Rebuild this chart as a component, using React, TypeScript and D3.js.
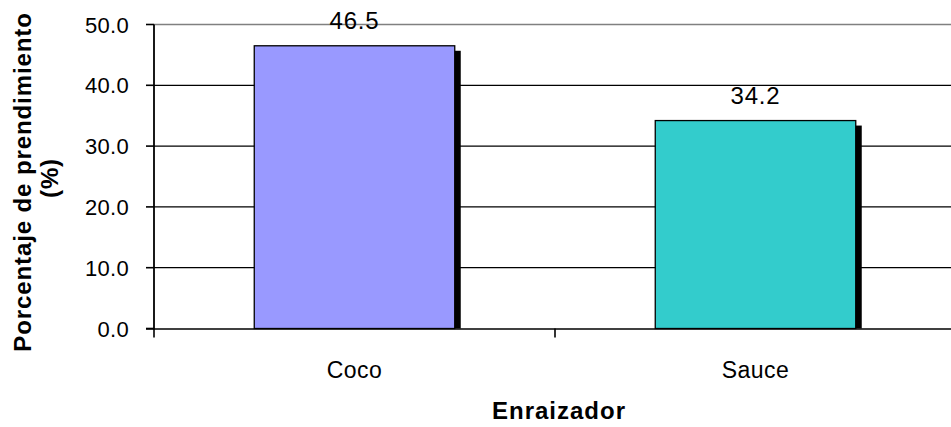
import React from "react";
import * as d3 from "d3";

const categories = ["Coco", "Sauce"];
const values = [46.5, 34.2];
const colors = ["#9999FF", "#33CCCC"];
const yTicks = [0, 10, 20, 30, 40, 50];
const yTitleLines = ["Porcentaje de prendimiento", "(%)"];
const xTitle = "Enraizador";

const W = 951;
const H = 427;
const FONT = "'Liberation Sans', Arial, Helvetica, sans-serif";

export default function App() {
  const y = d3.scaleLinear().domain([0, 50]).range([328.5, 24.5]);
  const x = d3.scaleBand<string>().domain(categories).range([154, 956]).paddingInner(0).paddingOuter(0);
  const bw = x.bandwidth();
  const barW = bw * 0.5;
  const y0 = y(0);

  return (
    <svg
      width={W}
      height={H}
      style={{ position: "absolute", left: 0, top: 0, background: "#fff" }}
      fontFamily={FONT}
    >
      <rect x={0} y={0} width={W} height={H} fill="#fff" />
      {/* gridlines */}
      {yTicks.filter((t) => t > 0).map((t) => (
        <line
          key={"g" + t}
          x1={154}
          x2={W}
          y1={y(t)}
          y2={y(t)}
          stroke={t === 50 ? "#808080" : "#000"}
          strokeWidth={t === 50 ? 1.6 : 1.3}
        />
      ))}
      {/* bars with shadows */}
      {categories.map((c, i) => {
        const bx = (x(c) as number) + bw * 0.25;
        const by = y(values[i]);
        return (
          <g key={c}>
            <rect x={bx + 6} y={by + 5} width={barW} height={y0 - by - 5} fill="#000" />
            <rect
              x={bx}
              y={by}
              width={barW}
              height={y0 - by}
              fill={colors[i]}
              stroke="#000"
              strokeWidth={1.3}
            />
            <text
              x={bx + barW / 2}
              y={by - 17}
              textAnchor="middle"
              fontSize={24}
              letterSpacing={0.8}
              fill="#000"
            >
              {values[i].toFixed(1)}
            </text>
            <text
              x={(x(c) as number) + bw / 2}
              y={378}
              textAnchor="middle"
              fontSize={23}
              letterSpacing={0.5}
              fill="#000"
            >
              {c}
            </text>
          </g>
        );
      })}
      {/* x axis */}
      <line x1={146} x2={W} y1={y0 + 0.5} y2={y0 + 0.5} stroke="#000" strokeWidth={1.6} />
      {[154, 154 + bw, 154 + 2 * bw].map((tx, i) => (
        <line key={"xt" + i} x1={tx} x2={tx} y1={y0} y2={y0 + 9} stroke="#000" strokeWidth={1.6} />
      ))}
      {/* y axis */}
      <line x1={154} x2={154} y1={y(50)} y2={y0 + 1} stroke="#000" strokeWidth={1.8} />
      {yTicks.map((t) => (
        <g key={"yt" + t}>
          <line x1={146} x2={154} y1={y(t)} y2={y(t)} stroke="#000" strokeWidth={1.6} />
          <text
            x={129}
            y={y(t) + 8}
            textAnchor="end"
            fontSize={22}
            letterSpacing={0.3}
            fill="#000"
          >
            {t.toFixed(1)}
          </text>
        </g>
      ))}
      {/* y title */}
      <text
        transform="translate(31,182) rotate(-90)"
        textAnchor="middle"
        fontSize={24}
        fontWeight="bold"
        letterSpacing={0.9}
        fill="#000"
      >
        {yTitleLines[0]}
      </text>
      <text
        transform="translate(58,178) rotate(-90)"
        textAnchor="middle"
        fontSize={24}
        fontWeight="bold"
        letterSpacing={0.9}
        fill="#000"
      >
        {yTitleLines[1]}
      </text>
      {/* x title */}
      <text
        x={559}
        y={419}
        textAnchor="middle"
        fontSize={24}
        fontWeight="bold"
        letterSpacing={1}
        fill="#000"
      >
        {xTitle}
      </text>
    </svg>
  );
}
